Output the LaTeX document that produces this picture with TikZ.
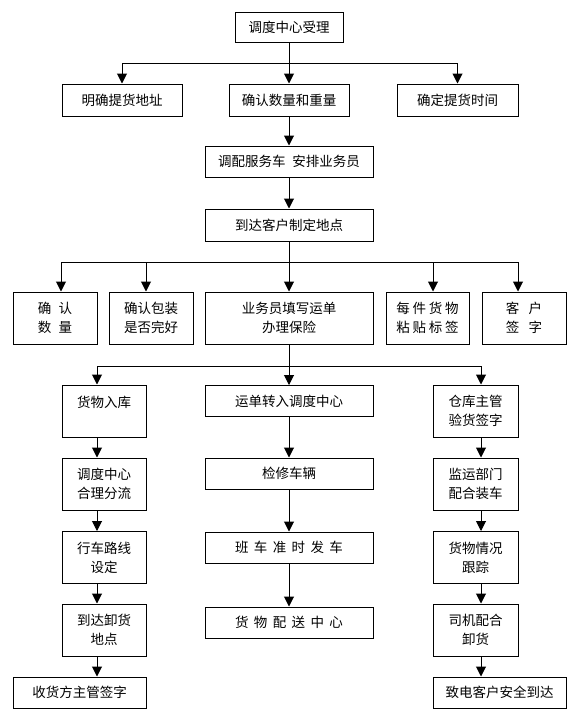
\documentclass[tikz,border=0pt]{standalone}
\usepackage{fontspec}
\setmainfont{Noto Sans CJK SC}
\usetikzlibrary{arrows.meta,calc}

% extra gap between characters
\newcommand{\kg}[1][.5em]{\hspace{#1}}

\begin{document}
\begin{tikzpicture}[x=1pt, y=-1pt, line width=1pt,
		box/.style={draw, line width=1pt, inner sep=0pt, align=center,
			font=\fontsize{13.5}{19}\selectfont},
		arr/.style={-{Triangle[width=10pt,length=10pt]}}]
		% Fixes the page to the size of the reference
		\useasboundingbox (0,0) rectangle (580,720);
		
		% --- Top part ---
		\node[box, minimum width=108pt, minimum height=30pt] (accept) at (289,27) {调度中心受理};
		
		\node[box, minimum width=120pt, minimum height=32pt] (addr) at (122,100) {明确提货地址};
		\node[box, minimum width=120pt, minimum height=32pt] (qty) at (289,100) {确认数量和重量};
		\node[box, minimum width=121pt, minimum height=32pt] (time) at (457.5,100) {确定提货时间};
		
		\node[box, minimum width=168pt, minimum height=31pt] (assign) at (289,161.5) {调配服务车\kg 安排业务员};
		\node[box, minimum width=168pt, minimum height=32pt] (arrive) at (289,225) {到达客户制定地点};
		
		% --- Row at the customer ---
		\node[box, minimum width=84pt, minimum height=52pt] (count) at (55,318) {确\kg[.55em]认\\数\kg[.55em]量};
		\node[box, minimum width=84pt, minimum height=52pt] (pack) at (151,318) {确认包装\\是否完好};
		\node[box, minimum width=168pt, minimum height=52pt] (form) at (289,318) {业务员填写运单\\办理保险};
		\node[box, minimum width=83pt, minimum height=52pt] (label) at (427.5,318) {每\kg[.2em]件\kg[.2em]货\kg[.2em]物\\粘\kg[.2em]贴\kg[.2em]标\kg[.2em]签};
		\node[box, minimum width=84pt, minimum height=52pt] (sign) at (524,318) {客\kg[.7em]户\\签\kg[.7em]字};
		
		% --- Left column ---
		\node[box, minimum width=84pt, minimum height=52pt] (store) at (104,411) {货物入库\\~};
		\node[box, minimum width=84pt, minimum height=52pt] (split) at (104,484) {调度中心\\合理分流};
		\node[box, minimum width=84pt, minimum height=52pt] (route) at (104,557.5) {行车路线\\设定};
		\node[box, minimum width=84pt, minimum height=52pt] (unload) at (104,630) {到达卸货\\地点};
		\node[box, minimum width=133pt, minimum height=31pt] (receipt) at (79.5,692.5) {收货方主管签字};
		
		% --- Middle column ---
		\node[box, minimum width=168pt, minimum height=31pt] (transfer) at (289,401) {运单转入调度中心};
		\node[box, minimum width=168pt, minimum height=31pt] (check) at (289,473.5) {检修车辆};
		\node[box, minimum width=168pt, minimum height=31pt] (depart) at (289,547.5) {班\kg[.4em]车\kg[.4em]准\kg[.4em]时\kg[.4em]发\kg[.4em]车};
		\node[box, minimum width=168pt, minimum height=31pt] (hub) at (289,622.5) {货\kg[.4em]物\kg[.4em]配\kg[.4em]送\kg[.4em]中\kg[.4em]心};
		
		% --- Right column ---
		\node[box, minimum width=85pt, minimum height=52pt] (inspect) at (475.5,411) {仓库主管\\验货签字};
		\node[box, minimum width=85pt, minimum height=52pt] (load) at (475.5,484) {监运部门\\配合装车};
		\node[box, minimum width=85pt, minimum height=52pt] (track) at (475.5,557.5) {货物情况\\跟踪};
		\node[box, minimum width=85pt, minimum height=52pt] (driver) at (475.5,630) {司机配合\\卸货};
		\node[box, minimum width=133pt, minimum height=31pt] (notify) at (499.5,692.5) {致电客户安全到达};
		
		% --- Connectors ---
		% branching points
		\coordinate (bus1) at ($(accept.south)+(0,21)$);
		\coordinate (bus2) at ($(arrive.south)+(0,21)$);
		\coordinate (bus3) at ($(form.south)+(0,22)$);
		
		\draw (accept.south) -- (bus1);
		\draw[arr] (bus1) -| (addr.north);
		\draw[arr] (bus1) -- (qty.north);
		\draw[arr] (bus1) -| (time.north);
		
		\draw[arr] (qty) -- (assign);
		\draw[arr] (assign) -- (arrive);
		
		\draw (arrive.south) -- (bus2);
		\draw[arr] (bus2) -| ([xshift=6pt]count.north);
		\draw[arr] (bus2) -| ([xshift=-5pt]pack.north);
		\draw[arr] (bus2) -- (form.north);
		\draw[arr] (bus2) -| ([xshift=5.5pt]label.north);
		\draw[arr] (bus2) -| ([xshift=-6pt]sign.north);
		
		\draw (form.south) -- (bus3);
		\draw[arr] (bus3) -| ([xshift=-7pt]store.north);
		\draw[arr] (bus3) -- (transfer.north);
		\draw[arr] (bus3) -| ([xshift=5.5pt]inspect.north);
		
		% the three columns
		\foreach \a/\b in {store/split, split/route, route/unload, unload/receipt}
			\draw[arr] ([xshift=-7pt]\a.south) -- ([xshift=-7pt]\a.south |- \b.north);
		\foreach \a/\b in {transfer/check, check/depart, depart/hub}
			\draw[arr] (\a) -- (\b);
		\foreach \a/\b in {inspect/load, load/track, track/driver, driver/notify}
			\draw[arr] ([xshift=5.5pt]\a.south) -- ([xshift=5.5pt]\a.south |- \b.north);
		
	\end{tikzpicture}
\end{document}
